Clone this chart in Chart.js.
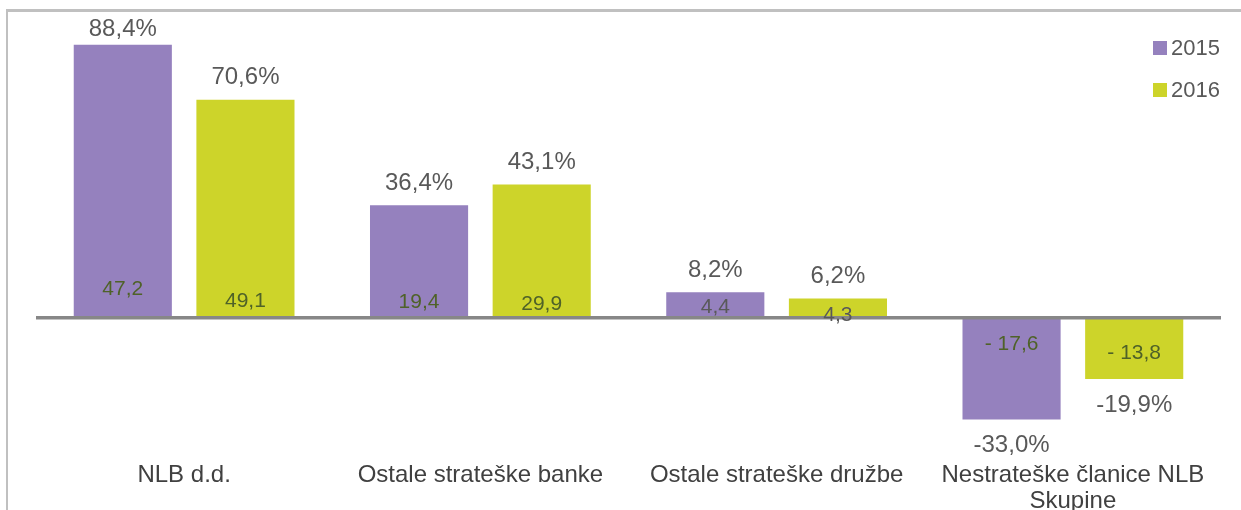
<!DOCTYPE html>
<html>
<head>
<meta charset="utf-8">
<script src="https://cdn.jsdelivr.net/npm/chart.js@4.4.1/dist/chart.umd.min.js"></script>
<style>
    body { margin: 0; background: #ffffff; }
    #wrap { width: 1241px; height: 510px; position: relative; }
</style>
</head>
<body>
<div id="wrap"><canvas id="contribBar"></canvas></div>
<script>
// categories and values
const categories = ['NLB d.d.', 'Ostale strateške banke', 'Ostale strateške družbe', ['Nestrateške članice NLB', 'Skupine']];
const years = ['2015', '2016'];
const shares2015 = [88.4, 36.4, 8.2, -33.0];
const shares2016 = [70.6, 43.1, 6.2, -19.9];
const amounts2015 = [47.2, 19.4, 4.4, -17.6];
const amounts2016 = [49.1, 29.9, 4.3, -13.8];

const purple = '#9581BE';
const lime = '#CDD42A';

function fmt(v) {
    return v.toFixed(1).replace('.', ',');
}

// frame around the chart (the title above it is cut off)
const framePlugin = {
    id: 'frame',
    beforeDraw(chart) {
        const ctx = chart.ctx;
        ctx.save();
        ctx.strokeStyle = '#c0c0c0';
        ctx.lineWidth = 3;
        ctx.beginPath();
        ctx.moveTo(6, 10.5);
        ctx.lineTo(chart.width, 10.5);
        ctx.stroke();
        ctx.lineWidth = 2;
        ctx.beginPath();
        ctx.moveTo(7, 10);
        ctx.lineTo(7, chart.height);
        ctx.stroke();
        ctx.restore();
    }
};

// zero line on top of the bars, then the labels
const labelPlugin = {
    id: 'barLabels',
    afterDatasetsDraw(chart, args, opts) {
        const ctx = chart.ctx;
        const area = chart.chartArea;
        const y0 = chart.scales.y.getPixelForValue(0);
        ctx.save();
        ctx.strokeStyle = '#878787';
        ctx.lineWidth = 3.5;
        ctx.beginPath();
        ctx.moveTo(area.left, y0);
        ctx.lineTo(area.right, y0);
        ctx.stroke();

        const amounts = [amounts2015, amounts2016];
        chart.data.datasets.forEach((ds, i) => {
            const meta = chart.getDatasetMeta(i);
            meta.data.forEach((bar, j) => {
                const v = ds.data[j];
                // percent share outside the bar
                ctx.font = '24px "Liberation Sans", Arial, sans-serif';
                ctx.fillStyle = '#595959';
                ctx.textAlign = 'center';
                if (v >= 0) {
                    ctx.textBaseline = 'bottom';
                    ctx.fillText(fmt(v) + '%', bar.x, Math.max(bar.y - 10, area.top + 21));
                } else {
                    ctx.textBaseline = 'top';
                    ctx.fillText(fmt(v) + '%', bar.x, bar.y + 14);
                }
                // amount inside the bar
                const a = amounts[i][j];
                const txt = a < 0 ? '- ' + fmt(-a) : fmt(a);
                ctx.font = '21px "Liberation Sans", Arial, sans-serif';
                ctx.fillStyle = opts.colors[i][j];
                ctx.textBaseline = 'middle';
                ctx.fillText(txt, bar.x, y0 - opts.offsets[i][j]);
            });
        });
        ctx.restore();
    }
};

// legend at the top right, inside the plot
const legendPlugin = {
    id: 'sideLegend',
    afterDraw(chart) {
        const ctx = chart.ctx;
        ctx.save();
        ctx.font = '22px "Liberation Sans", Arial, sans-serif';
        ctx.textBaseline = 'middle';
        ctx.textAlign = 'left';
        chart.data.datasets.forEach((ds, i) => {
            const top = 41 + i * 42;
            ctx.fillStyle = ds.backgroundColor;
            ctx.fillRect(1153, top, 14, 14);
            ctx.fillStyle = '#595959';
            ctx.fillText(ds.label, 1171, top + 7.5);
        });
        ctx.restore();
    }
};

const ctxContrib = document.getElementById('contribBar');
const dataContrib = {
    labels: categories,
    datasets: [{
        label: years[0],
        data: shares2015,
        backgroundColor: purple,
        categoryPercentage: 0.828,
        barPercentage: 0.8
    },
    {
        label: years[1],
        data: shares2016,
        backgroundColor: lime,
        categoryPercentage: 0.828,
        barPercentage: 0.8
    }]
};

const configContrib = {
    type: 'bar',
    data: dataContrib,
    plugins: [framePlugin, labelPlugin, legendPlugin],
    options: {
        responsive: true,
        maintainAspectRatio: false,
        animation: false,
        layout: {
            padding: { top: 20, left: 36, right: 20, bottom: -4 }
        },
        plugins: {
            legend: { display: false },
            tooltip: { enabled: false },
            barLabels: {
                offsets: [[28.5, 15.5, 10.5, -26.5], [16.5, 13.5, 2.5, -35.5]],
                colors: [['#4F6228', '#4F6228', '#595959', '#4F6228'], ['#4F6228', '#4F6228', '#595959', '#4F6228']]
            }
        },
        scales: {
            x: {
                grid: { display: false },
                border: { display: false },
                ticks: {
                    color: '#404040',
                    padding: 0,
                    maxRotation: 0,
                    autoSkip: false,
                    font: { family: '"Liberation Sans", Arial, sans-serif', size: 24, lineHeight: 1.08 }
                }
            },
            y: {
                display: false,
                min: -44.2,
                max: 96.4
            }
        }
    }
};

new Chart(ctxContrib, configContrib);
</script>
</body>
</html>
